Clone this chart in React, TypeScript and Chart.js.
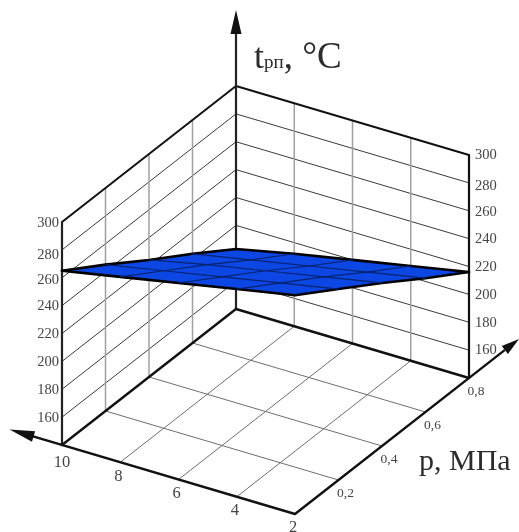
import React, { useEffect, useRef } from "react";
import { Chart, registerables } from "chart.js";

Chart.register(...registerables);

// ---- data ----
const nValues = [2, 4, 6, 8, 10];
const pValues = [0, 0.2, 0.4, 0.6, 0.8];
const tTicks = [160, 180, 200, 220, 240, 260, 280];
const tFloor = 140;
const tTop = 300;
// t of the surface: one row per n, one column per p
const surfaceN2 = [297, 277, 257, 236, 216];
const surfaceN4 = [289, 269, 249, 228, 208];
const surfaceN6 = [281, 261, 241, 220, 200];
const surfaceN8 = [273, 253, 233, 212, 192];
const surfaceN10 = [265, 245, 224, 204, 183];
const surfaceRows = [surfaceN2, surfaceN4, surfaceN6, surfaceN8, surfaceN10];
const nTickLabels = ["2", "4", "6", "8", "10"];
const pTickLabels = ["0,2", "0,4", "0,6", "0,8"];
const tAxisEnd = 354.5;
const nAxisEnd = 11.8;
const pAxisEnd = 1.03;

// ---- oblique projection of (n, p, t) onto the chart's x / y scales ----
const project = (n: number, p: number, t: number) => ({
  x: 295 - (233 * (n - 2)) / 8 + (174 * p) / 0.8,
  y: 514 - (69 * (n - 2)) / 8 - (136 * p) / 0.8 - ((t - tFloor) * 223) / (tTop - tFloor),
});

const nMin = nValues[0];
const nMax = nValues[nValues.length - 1];
const pMin = pValues[0];
const pMax = pValues[pValues.length - 1];
const serif = "'Liberation Serif', serif";

const line = (data: { x: number; y: number }[], color: string, width: number, extra: object = {}) => ({
  data,
  borderColor: color,
  borderWidth: width,
  pointRadius: 0,
  tension: 0,
  fill: false,
  borderCapStyle: "round" as const,
  borderJoinStyle: "round" as const,
  ...extra,
});

function buildDatasets() {
  const sets: any[] = [];
  const wallH = "#3a3a3a";
  const wallV = "#a0a0a0";
  const floorLine = "#6e6e6e";
  const heavy = "#111111";

  // floor grid
  nValues.slice(1, -1).forEach((n) =>
    sets.push(line([project(n, pMin, tFloor), project(n, pMax, tFloor)], floorLine, 1))
  );
  pValues.slice(1, -1).forEach((p) =>
    sets.push(line([project(nMin, p, tFloor), project(nMax, p, tFloor)], floorLine, 1))
  );
  // wall grid: horizontal
  tTicks.forEach((t) => {
    sets.push(line([project(nMax, pMin, t), project(nMax, pMax, t), project(nMin, pMax, t)], wallH, 1));
  });
  // wall grid: vertical
  pValues.slice(1, -1).forEach((p) =>
    sets.push(line([project(nMax, p, tFloor), project(nMax, p, tTop)], wallV, 1.5))
  );
  nValues.slice(1, -1).forEach((n) =>
    sets.push(line([project(n, pMax, tFloor), project(n, pMax, tTop)], wallV, 1.5))
  );
  // frame
  sets.push(line([project(nMax, pMin, tTop), project(nMax, pMax, tTop), project(nMin, pMax, tTop)], heavy, 2));
  sets.push(line([project(nMax, pMin, tFloor), project(nMax, pMin, tTop)], "#222222", 2.2));
  sets.push(line([project(nMin, pMax, tFloor), project(nMin, pMax, tTop)], heavy, 2.2));
  sets.push(line([project(nMax, pMax, tFloor), project(nMax, pMax, tAxisEnd - 16)], "#222222", 2.2));
  sets.push(line([project(nMax, pMin, tFloor), project(nMax, pMax, tFloor), project(nMin, pMax, tFloor)], heavy, 2.4));
  sets.push(line([project(nMax + (nAxisEnd - nMax) * 0.6, pMin, tFloor), project(nMin, pMin, tFloor), project(nMin, pMax + (pAxisEnd - pMax) * 0.7, tFloor)], heavy, 2.4));

  // surface: filled between its back edge and its front edge
  const backEdge = [
    ...pValues.map((p, j) => project(nMax, p, surfaceRows[nValues.length - 1][j])),
    ...nValues.slice(0, -1).reverse().map((n) => project(n, pMax, surfaceRows[nValues.indexOf(n)][pValues.length - 1])),
  ];
  const frontEdge = [
    ...nValues.slice().reverse().map((n) => project(n, pMin, surfaceRows[nValues.indexOf(n)][0])),
    ...pValues.slice(1).map((p, j) => project(nMin, p, surfaceRows[0][j + 1])),
  ];
  sets.push(line(backEdge, "#000000", 2.6, { fill: "+1", backgroundColor: "#0c47e4" }));
  sets.push(line(frontEdge, "#000000", 2.6));
  // surface mesh
  nValues.slice(1, -1).forEach((n) => {
    const row = surfaceRows[nValues.indexOf(n)];
    sets.push(line(pValues.map((p, j) => project(n, p, row[j])), "#06236f", 1.2));
  });
  pValues.slice(1, -1).forEach((p, k) => {
    sets.push(line(nValues.map((n, i) => project(n, p, surfaceRows[i][k + 1])), "#06236f", 1.2));
  });
  // later entries are painted later
  return sets.map((d, i) => ({ ...d, order: sets.length - i }));
}

const annotate = {
  id: "annotate",
  afterDatasetsDraw(chart: any) {
    const { ctx, scales } = chart;
    const px = (pt: { x: number; y: number }) => ({
      x: scales.x.getPixelForValue(pt.x),
      y: scales.y.getPixelForValue(pt.y),
    });
    const arrow = (tipPt: { x: number; y: number }, fromPt: { x: number; y: number }, len: number, half: number) => {
      const tip = px(tipPt);
      const from = px(fromPt);
      const d = Math.hypot(tip.x - from.x, tip.y - from.y);
      const ux = (tip.x - from.x) / d;
      const uy = (tip.y - from.y) / d;
      const bx = tip.x - ux * len;
      const by = tip.y - uy * len;
      ctx.beginPath();
      ctx.moveTo(tip.x, tip.y);
      ctx.lineTo(bx - uy * half, by + ux * half);
      ctx.lineTo(bx + uy * half, by - ux * half);
      ctx.closePath();
      ctx.fillStyle = "#111111";
      ctx.fill();
    };
    ctx.save();
    arrow(project(nMax, pMax, tAxisEnd), project(nMax, pMax, tFloor), 24, 5.5);
    arrow(project(nAxisEnd, pMin, tFloor), project(nMax, pMin, tFloor), 25, 5.5);
    arrow(project(nMin, pAxisEnd, tFloor), project(nMin, pMax, tFloor), 18, 5);

    ctx.textBaseline = "middle";
    ctx.fillStyle = "#444444";
    ctx.font = `14.5px ${serif}`;
    ctx.textAlign = "right";
    const leftNudge: Record<number, number> = { 280: 4, 260: 1.5 };
    [...tTicks, tTop].forEach((t) => {
      const a = px(project(nMax, pMin, t));
      ctx.fillText(String(t), a.x - 3, a.y + 1 + (leftNudge[t] ?? 0));
    });
    ctx.textAlign = "left";
    const rightNudge: Record<number, number> = { 280: 3, 260: 0.5 };
    [...tTicks, tTop].forEach((t) => {
      const a = px(project(nMin, pMax, t));
      ctx.fillText(String(t), a.x + 6, a.y + 0.5 + (rightNudge[t] ?? 0));
    });
    ctx.textAlign = "center";
    ctx.font = `16.5px ${serif}`;
    nValues.forEach((n, i) => {
      const a = px(project(n, pMin, tFloor));
      ctx.fillText(nTickLabels[i], a.x + (n === nMax ? 0 : -2), a.y + (n === nMax ? 18 : 14));
    });
    ctx.font = `13.5px ${serif}`;
    pValues.slice(1).forEach((p, i) => {
      const a = px(project(nMin, p, tFloor));
      ctx.fillText(pTickLabels[i], a.x + 7, a.y + 13);
    });

    // axis names
    ctx.textAlign = "left";
    ctx.textBaseline = "alphabetic";
    ctx.fillStyle = "#2c2c2c";
    ctx.font = `30px ${serif}`;
    ctx.fillText("p, МПа", 419, 470);
    let x = 254;
    const y = 68;
    ctx.font = `36px ${serif}`;
    ctx.fillText("t", x, y);
    x += ctx.measureText("t").width;
    ctx.font = `19px ${serif}`;
    ctx.fillText("рп", x, y);
    x += ctx.measureText("рп").width;
    ctx.font = `37px ${serif}`;
    ctx.fillText(", °C", x, y);
    ctx.restore();
  },
};

export default function App() {
  const ref = useRef<HTMLCanvasElement>(null);
  useEffect(() => {
    const chart = new Chart(ref.current as HTMLCanvasElement, {
      type: "line",
      data: { datasets: buildDatasets() },
      options: {
        animation: false,
        responsive: false,
        clip: false,
        layout: { padding: 0 },
        plugins: { legend: { display: false }, tooltip: { enabled: false }, title: { display: false } },
        scales: {
          x: { type: "linear", min: 0, max: 519, display: false },
          y: { type: "linear", min: 0, max: 532, reverse: true, display: false },
        },
      },
      plugins: [annotate],
    } as any);
    return () => chart.destroy();
  }, []);
  return (
    <div style={{ position: "absolute", left: 0, top: 0, width: 519, height: 532, background: "#fff" }}>
      <canvas ref={ref} width={519} height={532} style={{ display: "block", filter: "blur(0.55px)" }} />
    </div>
  );
}
